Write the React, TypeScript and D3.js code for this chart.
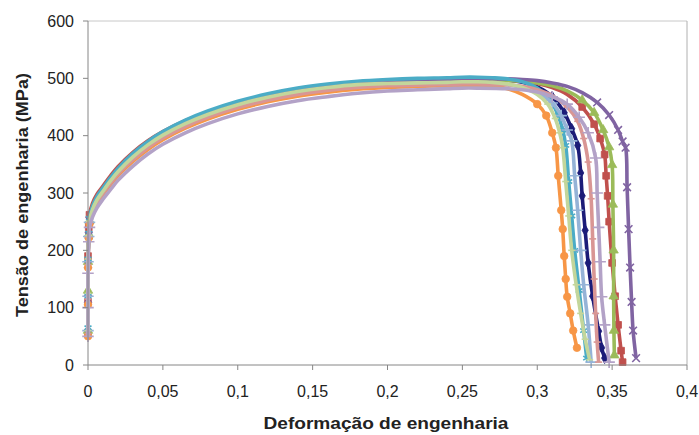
import React from 'react';
import * as d3 from 'd3';

// Shared strain values for the hardening part of each curve
const strainHard = [0, 0, 0, 0.0005, 0.001, 0.003, 0.006, 0.01, 0.015, 0.02, 0.03, 0.04, 0.05, 0.065, 0.08, 0.1, 0.12, 0.14, 0.16, 0.18, 0.2, 0.22, 0.24, 0.25];

// Stress (MPa) of each series at strainHard
const hardNavy = [60, 125, 185, 230, 255, 275, 292, 307, 325, 341, 367, 388, 405, 425, 441, 458, 471, 481, 488, 493, 496, 498, 499, 500];
const hardRed = [55, 110, 190, 240, 262, 282, 298, 312, 330, 346, 371, 391, 407, 426, 441, 457, 469, 479, 486, 491, 494, 496, 497, 498];
const hardGreen = [60, 130, 180, 228, 252, 273, 290, 305, 323, 339, 365, 386, 403, 423, 439, 456, 469, 479, 486, 491, 494, 495, 496, 497];
const hardPurple = [55, 115, 175, 226, 252, 273, 290, 305, 323, 339, 365, 386, 403, 423, 440, 457, 470, 480, 487, 492, 495, 497, 498, 499];
const hardTeal = [65, 120, 185, 230, 256, 277, 294, 309, 327, 343, 369, 390, 407, 427, 443, 460, 473, 483, 490, 495, 498, 500, 501, 502];
const hardOrange = [50, 105, 170, 222, 246, 265, 282, 297, 314, 330, 355, 376, 393, 413, 429, 446, 459, 469, 476, 481, 484, 486, 487, 488];
const hardLightBlue = [60, 120, 180, 224, 249, 269, 286, 301, 319, 335, 360, 381, 398, 418, 434, 451, 464, 474, 481, 486, 489, 490, 491, 492];
const hardPink = [55, 115, 175, 223, 248, 268, 285, 300, 317, 333, 358, 379, 396, 416, 432, 449, 462, 472, 479, 484, 487, 488, 489, 490];
const hardLightGreen = [60, 125, 185, 226, 251, 271, 288, 303, 321, 337, 363, 384, 401, 421, 437, 454, 467, 477, 484, 489, 491, 492, 493, 494];
const hardLavender = [50, 100, 160, 215, 240, 258, 274, 289, 306, 322, 347, 368, 385, 405, 421, 438, 451, 461, 468, 474, 478, 480, 482, 483];

// Necking / fracture part: [strain, stress]
const tailNavy = [[0.26, 500], [0.27, 499], [0.28, 497], [0.29, 493], [0.3, 485], [0.31, 468], [0.318, 440], [0.323, 412], [0.327, 383], [0.329, 335], [0.33, 295], [0.332, 235], [0.334, 178], [0.337, 120], [0.341, 59], [0.343, 30], [0.345, 12]];
const tailRed = [[0.26, 498], [0.28, 497], [0.29, 495], [0.3, 491], [0.31, 484], [0.32, 472], [0.33, 450], [0.338, 420], [0.342, 395], [0.345, 367], [0.346, 330], [0.347, 295], [0.348, 250], [0.35, 178], [0.352, 120], [0.354, 70], [0.356, 25], [0.357, 5]];
const tailGreen = [[0.26, 497], [0.28, 496], [0.29, 495], [0.3, 492], [0.31, 487], [0.32, 478], [0.33, 462], [0.338, 440], [0.344, 410], [0.348, 380], [0.35, 349], [0.3505, 280], [0.351, 200], [0.351, 120], [0.3512, 60], [0.3515, 17]];
const tailPurple = [[0.26, 499], [0.28, 499], [0.29, 498], [0.3, 496], [0.31, 492], [0.32, 486], [0.33, 475], [0.34, 458], [0.348, 436], [0.354, 410], [0.357, 390], [0.359, 379], [0.36, 310], [0.361, 237], [0.362, 170], [0.363, 110], [0.364, 60], [0.366, 12]];
const tailTeal = [[0.26, 502], [0.27, 501], [0.28, 499], [0.29, 494], [0.3, 483], [0.308, 465], [0.314, 435], [0.317, 410], [0.319, 383], [0.321, 320], [0.323, 260], [0.325, 200], [0.328, 130], [0.331, 60], [0.333, 12]];
const tailOrange = [[0.26, 487], [0.27, 486], [0.28, 482], [0.29, 472], [0.3, 455], [0.306, 435], [0.31, 405], [0.3125, 379], [0.314, 330], [0.316, 270], [0.317, 237], [0.318, 190], [0.319, 150], [0.32, 119], [0.322, 90], [0.324, 60], [0.3265, 30]];
const tailLightBlue = [[0.26, 492], [0.27, 491], [0.28, 489], [0.29, 484], [0.3, 475], [0.31, 457], [0.316, 435], [0.32, 410], [0.323, 391], [0.325, 330], [0.327, 270], [0.329, 200], [0.331, 140], [0.334, 70], [0.336, 5]];
const tailPink = [[0.26, 490], [0.28, 489], [0.29, 486], [0.3, 480], [0.31, 470], [0.32, 450], [0.327, 425], [0.331, 395], [0.334, 354], [0.336, 290], [0.337, 220], [0.338, 150], [0.339, 90], [0.34, 40], [0.341, 5]];
const tailLightGreen = [[0.26, 494], [0.27, 493], [0.28, 490], [0.29, 484], [0.3, 472], [0.307, 455], [0.312, 430], [0.315, 405], [0.317, 379], [0.319, 320], [0.321, 260], [0.323, 200], [0.326, 140], [0.329, 90], [0.332, 45], [0.335, 9]];
const tailLavender = [[0.26, 483], [0.28, 482], [0.29, 480], [0.3, 476], [0.31, 468], [0.32, 455], [0.328, 432], [0.334, 405], [0.339, 361], [0.34, 300], [0.341, 240], [0.342, 180], [0.343, 119], [0.345, 70], [0.348, 5]];

const seriesHard = [hardNavy, hardRed, hardGreen, hardPurple, hardTeal, hardOrange, hardLightBlue, hardPink, hardLightGreen, hardLavender];
const seriesTail = [tailNavy, tailRed, tailGreen, tailPurple, tailTeal, tailOrange, tailLightBlue, tailPink, tailLightGreen, tailLavender];
const seriesColors = ['#1c1c78', '#c0504d', '#9bbb59', '#8064a2', '#4bacc6', '#f79646', '#95b3d7', '#d99694', '#c3d69b', '#b3a2c7'];
const seriesMarkers = ['diamond', 'square', 'triangle', 'times', 'asterisk', 'circle', 'plus', 'dash', 'dash', 'plus'];

const xTicks = [0, 0.05, 0.1, 0.15, 0.2, 0.25, 0.3, 0.35, 0.4];
const xTickLabels = ['0', '0,05', '0,1', '0,15', '0,2', '0,25', '0,3', '0,35', '0,4'];
const yTicks = [0, 100, 200, 300, 400, 500, 600];

const xTitle = 'Deformação de engenharia';
const yTitle = 'Tensão de engenharia (MPa)';

const W = 699, H = 435;
const left = 88, right = 687, top = 21, bottom = 365;

function markerPath(kind: string) {
  const map: Record<string, [any, number]> = {
    diamond: [d3.symbolDiamond, 34],
    square: [d3.symbolSquare, 45],
    triangle: [d3.symbolTriangle, 38],
    times: [d3.symbolTimes, 40],
    asterisk: [d3.symbolAsterisk, 45],
    circle: [d3.symbolCircle, 45],
    plus: [d3.symbolPlus, 45],
  };
  if (kind === 'dash') return 'M-3.5,0L3.5,0';
  const [t, s] = map[kind];
  return d3.symbol().type(t).size(s)() as string;
}

const strokeMarkers = new Set(['times', 'asterisk', 'plus', 'dash']);

export default function App() {
  const x = d3.scaleLinear().domain([0, 0.4]).range([left, right]);
  const y = d3.scaleLinear().domain([0, 600]).range([bottom, top]);
  const line = d3
    .line<number[]>()
    .x((d) => x(d[0]))
    .y((d) => y(d[1]))
    .curve(d3.curveCatmullRom.alpha(0.5));

  const series = seriesHard.map((h, i) => {
    const pts: number[][] = strainHard.map((s, j) => [s, h[j]]).concat(seriesTail[i]);
    // markers where the curve is steep (elastic start and fracture drop), dense elsewhere
    const markerPts = pts.filter((p) => p[0] <= 0.001 || p[1] < 470);
    return { pts, markerPts, color: seriesColors[i], marker: seriesMarkers[i] };
  });

  const font = "'Liberation Sans', Arial, sans-serif";
  const axisColor = '#868686';

  return (
    <svg width={W} height={H} style={{ position: 'absolute', left: 0, top: 0, background: '#fff' }} fontFamily={font}>
      <rect x={0} y={0} width={W} height={H} fill="#fff" />
      {/* plot border */}
      <line x1={left} x2={right} y1={top} y2={top} stroke="#c8c8c8" strokeWidth={1} />
      <line x1={right} x2={right} y1={top} y2={bottom} stroke="#b0b0b0" strokeWidth={1} />

      {series.map((s, i) => {
        const mp = markerPath(s.marker);
        const isStroke = strokeMarkers.has(s.marker);
        return (
          <g key={i}>
            <path d={line(s.pts) as string} fill="none" stroke={s.color} strokeWidth={3.6} strokeLinejoin="round" />
            {s.markerPts
              .filter((p) => p[0] <= 0.001 || p[0] > 0.25)
              .map((p, j) => (
                <path
                  key={j}
                  d={mp}
                  transform={`translate(${x(p[0])},${y(p[1])})`}
                  fill={isStroke ? 'none' : s.color}
                  stroke={s.color}
                  strokeWidth={isStroke ? 1.6 : 0.8}
                />
              ))}
          </g>
        );
      })}

      {/* axes */}
      <line x1={left} x2={left} y1={top} y2={bottom} stroke={axisColor} strokeWidth={1} />
      <line x1={left} x2={right} y1={bottom} y2={bottom} stroke={axisColor} strokeWidth={1} />
      {yTicks.map((t) => (
        <g key={t}>
          <line x1={left - 5} x2={left} y1={y(t)} y2={y(t)} stroke={axisColor} />
          <text x={74} y={y(t)} dy="0.35em" textAnchor="end" fontSize={16} fill="#222">
            {t}
          </text>
        </g>
      ))}
      {xTicks.map((t, i) => (
        <g key={t}>
          <line x1={x(t)} x2={x(t)} y1={bottom} y2={bottom + 5} stroke={axisColor} />
          <text x={x(t)} y={397} textAnchor="middle" fontSize={16} fill="#222">
            {xTickLabels[i]}
          </text>
        </g>
      ))}
      <text x={386} y={429} textAnchor="middle" fontSize={17} fontWeight="bold" fill="#222" textLength={245} lengthAdjust="spacingAndGlyphs">
        {xTitle}
      </text>
      <text
        transform={`translate(28,195) rotate(-90)`}
        textAnchor="middle"
        fontSize={17}
        fontWeight="bold"
        fill="#222"
        textLength={244}
        lengthAdjust="spacingAndGlyphs"
      >
        {yTitle}
      </text>
    </svg>
  );
}
